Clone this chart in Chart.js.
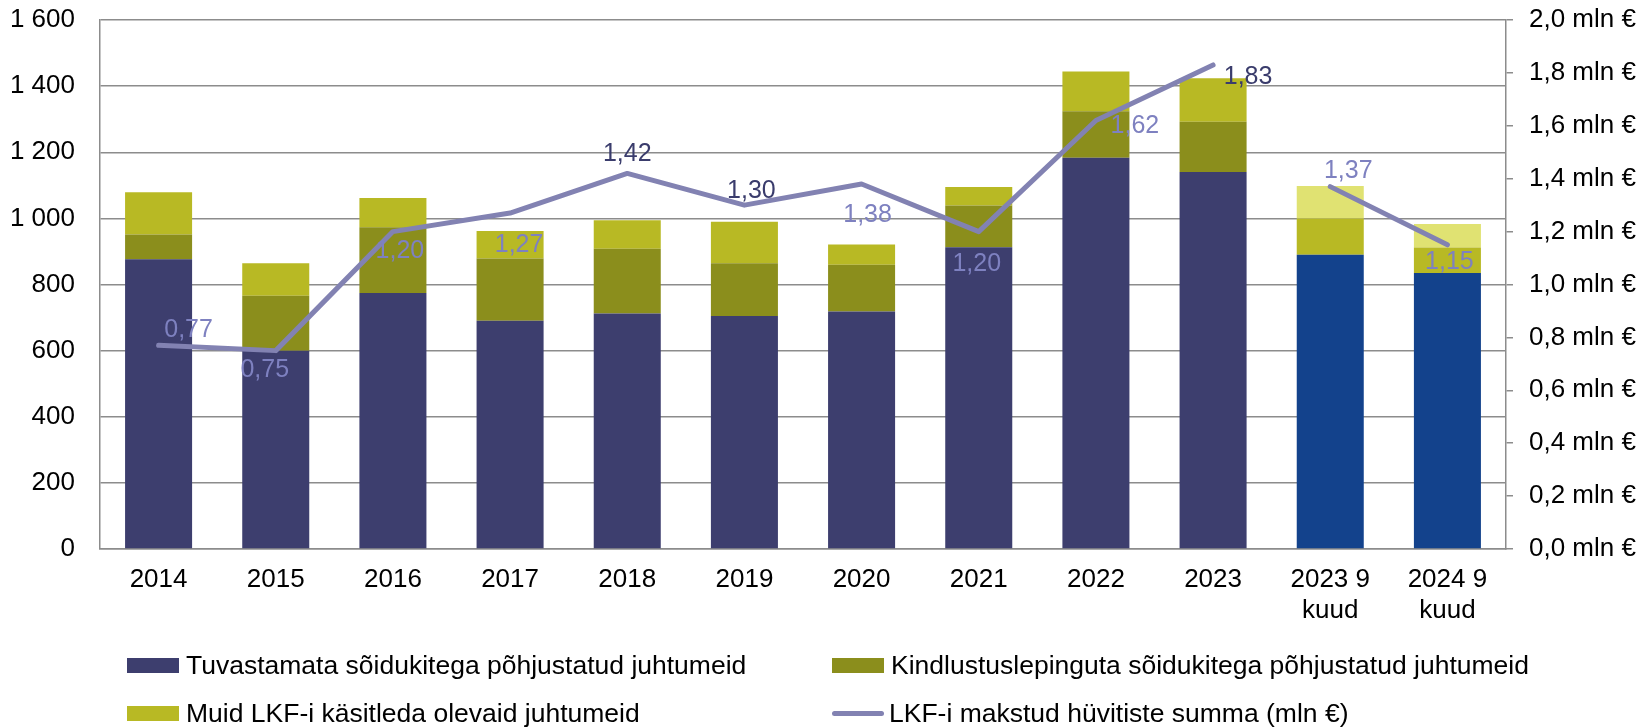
<!DOCTYPE html>
<html>
<head>
<meta charset="utf-8">
<script src="https://cdn.jsdelivr.net/npm/chart.js@4.4.1/dist/chart.umd.min.js"></script>
<style>
  body { margin: 0; background: #fff; }
  #wrap { position: relative; width: 1643px; height: 727px; font-family: "Liberation Sans", Arial, sans-serif; }
  #legend { position: absolute; left: 0; top: 0; width: 100%; height: 100%; pointer-events: none; }
  .item { position: absolute; display: flex; align-items: center; font-size: 26.5px; color: #000; white-space: nowrap; }
  .box { width: 52px; height: 15px; margin-right: 7px; }
  .ln { width: 52px; height: 5px; border-radius: 3px; margin-right: 5px; }
</style>
</head>
<body>
<div id="wrap">
  <canvas id="grafik"></canvas>
  <div id="legend"></div>
</div>
<script>
// andmed
const aastad = [["2014"], ["2015"], ["2016"], ["2017"], ["2018"], ["2019"], ["2020"], ["2021"], ["2022"], ["2023"], ["2023 9", "kuud"], ["2024 9", "kuud"]];
const tuvastamata = [876, 600, 774, 690, 712, 705, 718, 913, 1183, 1140, 890, 835];
const kindlustuseta = [75, 166, 199, 189, 196, 159, 142, 126, 141, 152, 110, 77];
const muud = [128, 98, 89, 83, 86, 126, 61, 56, 120, 132, 98, 71];
const huvitised = [0.77, 0.75, 1.20, 1.27, 1.42, 1.30, 1.38, 1.20, 1.62, 1.83, 1.37, 1.15];

const seeriaNimed = [
    "Tuvastamata sõidukitega põhjustatud juhtumeid",
    "Kindlustuslepinguta sõidukitega põhjustatud juhtumeid",
    "Muid LKF-i käsitleda olevaid juhtumeid",
    "LKF-i makstud hüvitiste summa (mln €)"
];

// värvid (aasta / 9 kuud)
const navy = "#3d3e6e", sinine = "#13428c";
const oliiv = "#8b8e1c", kollane = "#b8b924", hele = "#e0e272";
const joonVarv = "#8282b2";
const perVarv = (a, b) => aastad.map(l => l.length > 1 ? b : a);

// siltide paigutus punkti suhtes (px) ja toon
const siltNihe = [[30, -15], [-11, 19], [7, 20], [9, 32], [0, -19], [7, -14], [6, 31], [-2, 33], [39, 6], [35, 12], [18, -16], [2, 17]];
const tumedadSildid = [4, 5, 9];

const FONT = "'Liberation Sans', Arial, sans-serif";
const halli = "#8c8c8c";

const siltPlugin = {
    id: "silt",
    afterDatasetsDraw(chart) {
        const meta = chart.getDatasetMeta(0);
        const ctx = chart.ctx;
        ctx.save();
        ctx.font = "25px " + FONT;
        ctx.textAlign = "center";
        ctx.textBaseline = "middle";
        meta.data.forEach((p, i) => {
            ctx.fillStyle = tumedadSildid.includes(i) ? "#3a3c6c" : "#7e81c0";
            ctx.fillText(huvitised[i].toFixed(2).replace(".", ","), p.x + siltNihe[i][0], p.y + siltNihe[i][1]);
        });
        ctx.restore();
    }
};

// telje laius + ülemine ruum joonisealale
const sobita = w => s => { s.width = w; s.paddingTop = 20; s.paddingBottom = 0; };

const chart = new Chart(document.getElementById("grafik"), {
    data: {
        labels: aastad,
        datasets: [
            {
                type: "line",
                label: seeriaNimed[3],
                data: huvitised,
                yAxisID: "y1",
                borderColor: joonVarv,
                borderWidth: 5,
                borderCapStyle: "round",
                borderJoinStyle: "round",
                pointRadius: 0,
                tension: 0,
                order: 0,
                segment: {
                    borderColor: c => c.p0DataIndex === 9 ? "rgba(0,0,0,0)" : undefined
                }
            },
            { type: "bar", label: seeriaNimed[0], data: tuvastamata, backgroundColor: perVarv(navy, sinine), yAxisID: "y", order: 1 },
            { type: "bar", label: seeriaNimed[1], data: kindlustuseta, backgroundColor: perVarv(oliiv, kollane), yAxisID: "y", order: 1 },
            { type: "bar", label: seeriaNimed[2], data: muud, backgroundColor: perVarv(kollane, hele), yAxisID: "y", order: 1 }
        ]
    },
    options: {
        responsive: true,
        maintainAspectRatio: false,
        animation: false,
        datasets: { bar: { barPercentage: 0.572, categoryPercentage: 1 } },
        layout: { padding: 0 },
        plugins: {
            legend: { display: false },
            tooltip: { enabled: false }
        },
        scales: {
            x: {
                stacked: true,
                grid: { display: false },
                border: { color: halli, width: 1.5 },
                ticks: {
                    color: "#000",
                    padding: 8,
                    maxRotation: 0,
                    autoSkip: false,
                    font: { family: FONT, size: 26, lineHeight: 1.17 }
                },
                afterFit: s => { s.height = 178; }
            },
            y: {
                stacked: true,
                position: "left",
                min: 0,
                max: 1600,
                grid: { color: halli, lineWidth: 1.5, drawTicks: false },
                border: { color: halli, width: 1.5 },
                ticks: {
                    stepSize: 200,
                    color: "#000",
                    padding: 25,
                    font: { family: FONT, size: 26 },
                    callback: v => String(v).replace(/\B(?=(\d{3})+(?!\d))/g, " ")
                },
                afterFit: sobita(100)
            },
            y1: {
                position: "right",
                min: 0,
                max: 2,
                grid: { drawOnChartArea: false, color: halli, lineWidth: 1.5, tickLength: 7 },
                border: { color: halli, width: 1.5 },
                ticks: {
                    stepSize: 0.2,
                    color: "#000",
                    padding: 16,
                    font: { family: FONT, size: 26 },
                    callback: v => v.toFixed(1).replace(".", ",") + " mln €"
                },
                afterFit: sobita(137)
            }
        }
    },
    plugins: [siltPlugin]
});

// legend kahes veerus
const legendDiv = document.getElementById("legend");
const kohad = [[127, 665], [832, 665], [127, 713], [832, 713]];
[1, 2, 3, 0].forEach((dsIndex, k) => {
    const ds = chart.data.datasets[dsIndex];
    const el = document.createElement("div");
    el.className = "item";
    el.style.left = kohad[k][0] + "px";
    el.style.top = (kohad[k][1] - 15) + "px";
    el.style.height = "30px";
    const m = document.createElement("span");
    if (ds.type === "line") {
        m.className = "ln";
        m.style.background = ds.borderColor;
    } else {
        m.className = "box";
        m.style.background = ds.backgroundColor[0];
    }
    el.appendChild(m);
    el.appendChild(document.createTextNode(ds.label));
    legendDiv.appendChild(el);
});
</script>
</body>
</html>
